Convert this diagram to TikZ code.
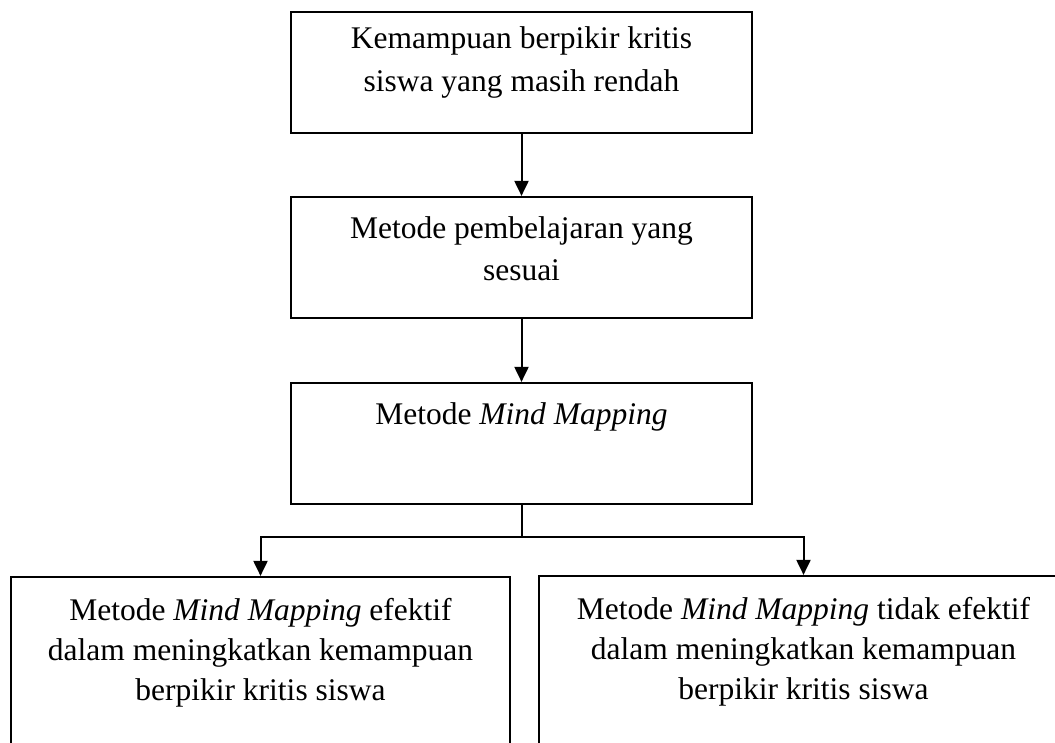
\documentclass[tikz,border=0pt]{standalone}
\usepackage{fontspec}
\setmainfont{Liberation Serif}
\usetikzlibrary{arrows.meta,positioning}

\begin{document}
\begin{tikzpicture}[x=1pt,y=-1pt,
    box/.style={draw,line width=2.2pt,minimum width=461pt,minimum height=121pt,inner sep=0pt},
    txt/.style={align=center,inner sep=0pt,font=\fontsize{31.5}{41.5}\selectfont},
    >={Triangle[length=15pt,width=14pt]}]
    \clip (0,0) rectangle (1055,742);
    \node[box] (a) at (521.5,72.5) {};
    \node[box] (b) at (521.5,257.5) {};
    \node[box] (c) at (521.5,443.5) {};
    \node[box,minimum width=499pt,minimum height=220pt] (d) at (260.5,687) {};
    \node[box,minimum width=529pt,minimum height=220pt] (e) at (803.5,686) {};
    \node[txt,below=16pt of a.north,font=\fontsize{31.5}{43}\selectfont] (ta) {Kemampuan berpikir kritis\\siswa yang masih rendah};
    \node[txt,below=21pt of b.north] (tb) {Metode pembelajaran yang\\sesuai};
    \node[txt,below=21pt of c.north] (tc) {Metode \textit{Mind Mapping}};
    \node[txt,below=22pt of d.north,font=\fontsize{31.5}{40}\selectfont] (td) {Metode \textit{Mind Mapping} efektif\\dalam meningkatkan kemampuan\\berpikir kritis siswa};
    \node[txt,below=22pt of e.north,font=\fontsize{31.5}{40}\selectfont] (te) {Metode \textit{Mind Mapping} tidak efektif\\dalam meningkatkan kemampuan\\berpikir kritis siswa};
    \coordinate (s) at (521.5,537);
    \draw [->,line width=2pt] (a) to (b);
    \draw [->,line width=2pt] (b) to (c);
    \draw [line width=2pt] (c) to (s);
    \draw [->,line width=2pt] (s) -| (d);
    \draw [->,line width=2pt] (s) -| (e);
  \end{tikzpicture}
\end{document}
